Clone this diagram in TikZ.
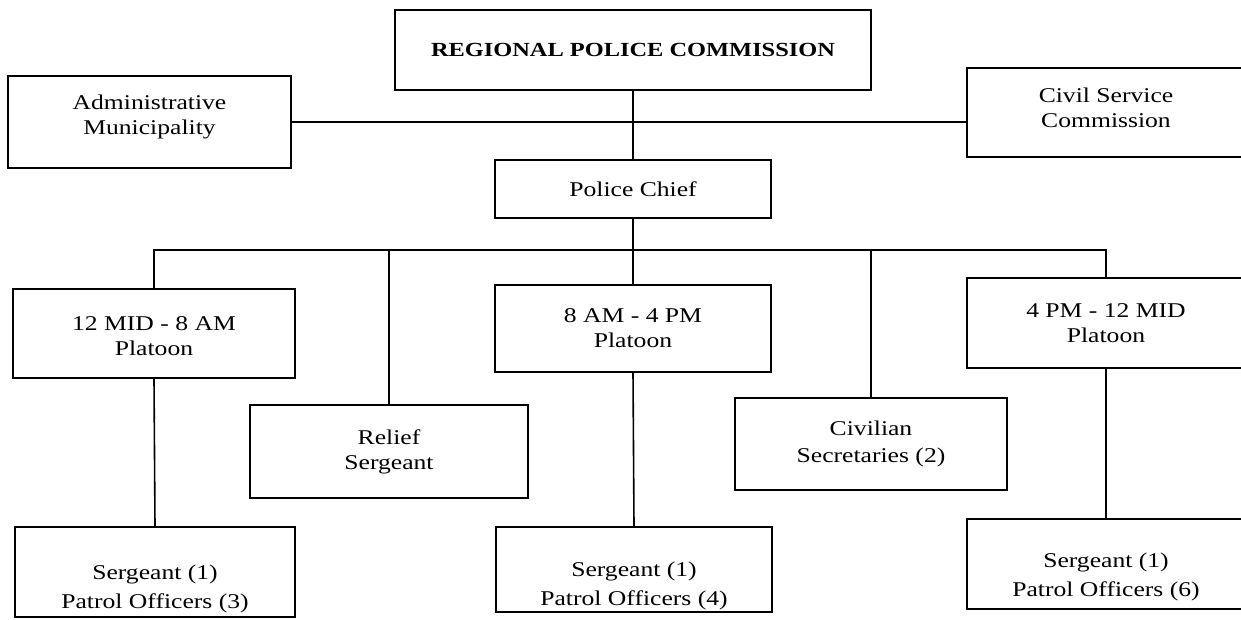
\documentclass[tikz,border=0pt]{standalone}
\usepackage{fontspec}
\setmainfont{Liberation Serif}[FakeStretch=1.22]
\begin{document}
\begin{tikzpicture}[x=1pt,y=-1pt,
  box/.style={draw, line width=1.6pt, rectangle, align=center, inner sep=0pt,
    font=\fontsize{21}{25}\selectfont},
  crewtext/.style={align=center, font=\fontsize{21}{25}\selectfont},
  link/.style={line width=1.6pt}]
\useasboundingbox (0,0) rectangle (1241,620);
\clip (0,0) rectangle (1241,620);

% top level
\node[box, minimum width=476pt, minimum height=80pt, font=\fontsize{20}{25}\selectfont\bfseries] (rpc) at (633,50) {REGIONAL POLICE COMMISSION};
\node[box, minimum width=283pt, minimum height=92pt] (admin) at (149.5,122) {Administrative\\Municipality\rule[-14pt]{0pt}{1pt}};
\node[box, minimum width=278pt, minimum height=89pt] (civil) at (1106,112.5) {Civil Service\\Commission\rule[-10pt]{0pt}{1pt}};
\node[box, minimum width=276pt, minimum height=58pt] (chief) at (633,189) {Police Chief};

% platoons and staff
\node[box, minimum width=282pt, minimum height=89pt] (p1) at (154,333.5) {\rule{0pt}{19pt}12 MID - 8 AM\\Platoon};
\node[box, minimum width=276pt, minimum height=87pt] (p2) at (633,328.5) {8 AM - 4 PM\\Platoon};
\node[box, minimum width=278pt, minimum height=90pt] (p3) at (1106,323) {4 PM - 12 MID\\Platoon};
\node[box, minimum width=278pt, minimum height=93pt] (relief) at (389,451.5) {Relief\\Sergeant};
\node[box, minimum width=272pt, minimum height=92pt] (civilian) at (871,444) {Civilian\\[2pt]Secretaries (2)};

% shift crews
\node[box, minimum width=280pt, minimum height=90pt,
  label={[crewtext, yshift=-17pt]center:Sergeant (1)\\[4pt]Patrol Officers (3)}] (s1) at (155,572) {};
\node[box, minimum width=276pt, minimum height=85pt,
  label={[crewtext, yshift=-16pt]center:Sergeant (1)\\[4pt]Patrol Officers (4)}] (s2) at (634,569.5) {};
\node[box, minimum width=278pt, minimum height=90pt,
  label={[crewtext, yshift=-13pt]center:Sergeant (1)\\[4pt]Patrol Officers (6)}] (s3) at (1106,564) {};

\coordinate (bus) at (0,250);

% connectors
\draw[link] (admin.east) -- (civil.west |- admin.east);
\draw[link] (rpc.south) -- (chief.north);
\draw[link] (chief.south) -- (chief.south |- bus);
\draw[link] (p1.north) -- (p1.north |- bus) -- (p3.north |- bus) -- (p3.north);
\draw[link] (relief.north) -- (relief.north |- bus);
\draw[link] (p2.north) -- (p2.north |- bus);
\draw[link] (civilian.north) -- (civilian.north |- bus);
\draw[link] (p1.south) -- (s1.north);
\draw[link] (p2.south) -- (s2.north);
\draw[link] (p3.south) -- (s3.north);
\end{tikzpicture}
\end{document}
